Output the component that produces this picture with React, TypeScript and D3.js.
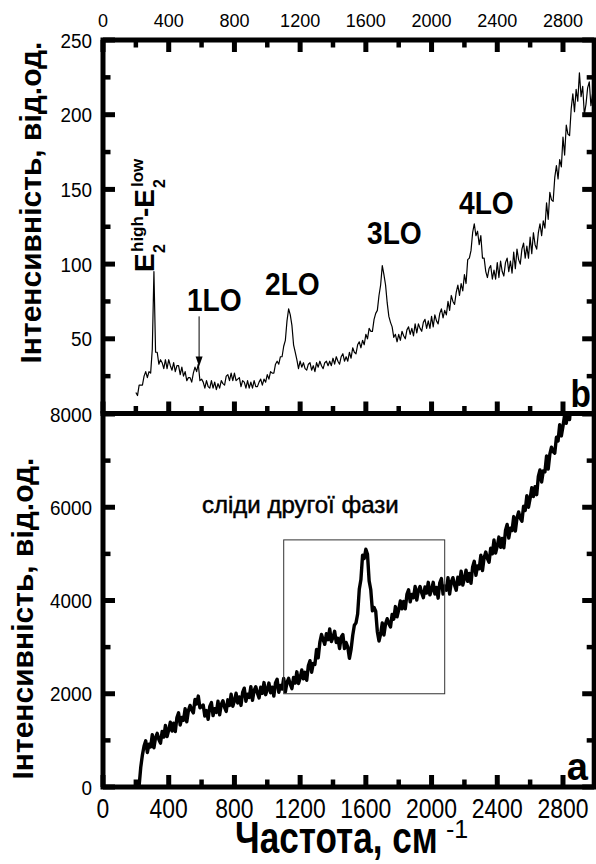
import React from 'react';
import * as d3 from 'd3';

const W = 596;
const H = 864;
const FONT = '"Liberation Sans", Arial, Helvetica, sans-serif';

// Axis ticks (wavenumber, cm^-1)
const xMajor = [0, 400, 800, 1200, 1600, 2000, 2400, 2800];
const xMinor = [200, 600, 1000, 1400, 1800, 2200, 2600];
const topYMajor = [50, 100, 150, 200, 250];
const topYMinor = [25, 75, 125, 175, 225];
const topYLabels = [50, 100, 150, 200, 250];
const botYMajor = [0, 2000, 4000, 6000, 8000];
const botYMinor = [1000, 3000, 5000, 7000];

// Spectrum (b): sampled every 10 cm^-1 starting at 200 cm^-1
const TOP_START = 200;
const TOP_STEP = 10;
const topIntensity = [
  14, 12, 19, 19, 19, 25, 28, 24, 28, 27,
  43, 95, 41, 41, 33, 36, 34, 30, 36, 30,
  36, 32, 29, 34, 28, 32, 32, 26, 31, 25,
  28, 22, 24, 24, 21, 27, 31, 28, 33, 22,
  23, 21, 17, 22, 18, 17, 22, 17, 21, 16,
  20, 17, 22, 20, 19, 25, 26, 22, 27, 22,
  27, 22, 23, 24, 18, 22, 21, 17, 22, 17,
  21, 17, 22, 18, 18, 21, 23, 19, 23, 21,
  26, 23, 28, 27, 27, 33, 35, 33, 38, 38,
  45, 49, 62, 70, 66, 59, 46, 41, 36, 30,
  35, 31, 34, 30, 29, 33, 34, 29, 32, 28,
  34, 31, 35, 32, 30, 34, 35, 32, 35, 32,
  37, 33, 38, 35, 33, 38, 40, 35, 38, 35,
  41, 37, 44, 41, 40, 46, 48, 44, 49, 46,
  53, 50, 57, 55, 55, 63, 67, 69, 79, 86,
  99, 93, 86, 74, 65, 61, 58, 51, 53, 48,
  53, 49, 55, 52, 50, 56, 58, 53, 57, 52,
  60, 54, 60, 57, 55, 61, 63, 57, 62, 57,
  65, 58, 66, 62, 60, 67, 70, 64, 69, 66,
  75, 69, 79, 75, 73, 81, 86, 79, 87, 82,
  93, 87, 103, 104, 109, 121, 127, 119, 122, 113,
  119, 104, 104, 95, 91, 97, 99, 90, 96, 90,
  101, 91, 102, 95, 92, 101, 104, 95, 102, 94,
  108, 97, 110, 103, 100, 110, 114, 104, 112, 104,
  118, 107, 121, 113, 110, 121, 127, 119, 129, 124,
  141, 130, 148, 143, 142, 158, 166, 157, 170, 165,
  185, 173, 193, 187, 186, 204, 214, 202, 217, 209,
  228, 212, 219, 200, 207, 218, 222, 206, 214, 205,
];

// Spectrum (a): sampled every 10 cm^-1 starting at 180 cm^-1
const BOT_START = 180;
const BOT_STEP = 10;
const botIntensity = [
  0, 0, 0, 0, 30, 430, 690, 880, 990, 740,
  920, 860, 1120, 840, 1060, 1150, 1020, 940, 1190, 1070,
  1320, 1080, 1220, 1390, 1200, 1370, 1190, 1490, 1590, 1330,
  1490, 1430, 1680, 1400, 1640, 1750, 1650, 1590, 1880, 1780,
  1950, 1700, 1720, 1760, 1520, 1640, 1450, 1730, 1810, 1530,
  1680, 1600, 1840, 1550, 1770, 1850, 1710, 1620, 1870, 1750,
  1990, 1730, 1850, 2010, 1800, 1930, 1750, 2030, 2120, 1840,
  1990, 1920, 2150, 1860, 2070, 2150, 2010, 1910, 2140, 2010,
  2240, 1980, 2090, 2230, 2020, 2140, 1950, 2230, 2310, 2030,
  2180, 2100, 2330, 2040, 2250, 2330, 2200, 2110, 2350, 2230,
  2470, 2220, 2340, 2510, 2320, 2460, 2290, 2600, 2710, 2460,
  2650, 2630, 2950, 2770, 3100, 3270, 3160, 3060, 3290, 3160,
  3390, 3120, 3210, 3340, 3100, 3190, 2970, 3220, 3270, 2970,
  3100, 3000, 2760, 2950, 3250, 3470, 3520, 3710, 4240, 4450,
  4970, 4900, 5100, 4990, 4420, 4230, 3780, 3850, 3770, 3330,
  3130, 3280, 3520, 3260, 3500, 3610, 3500, 3430, 3700, 3600,
  3870, 3650, 3800, 3990, 3820, 3980, 3820, 4130, 4230, 3970,
  4130, 4060, 4300, 4010, 4220, 4300, 4160, 4060, 4290, 4160,
  4390, 4120, 4230, 4390, 4140, 4280, 4050, 4380, 4470, 4140,
  4310, 4220, 4490, 4140, 4400, 4490, 4330, 4220, 4500, 4350,
  4630, 4330, 4470, 4650, 4410, 4580, 4370, 4720, 4840, 4540,
  4740, 4680, 4970, 4640, 4920, 5040, 4900, 4820, 5120, 5000,
  5300, 5020, 5170, 5360, 5140, 5330, 5130, 5500, 5630, 5340,
  5550, 5500, 5800, 5490, 5770, 5900, 5760, 5700, 6020, 5930,
  6250, 6000, 6190, 6420, 6230, 6440, 6270, 6660, 6800, 6540,
  6780, 6760, 7100, 6820, 7140, 7290, 7190, 7160, 7500, 7420,
  7770, 7530, 7740, 7980, 7800, 8030, 7880, 8290,
];

// Peak labels for spectrum (b): text anchored at [cm^-1, intensity]
const peakLabels = ['1LO', '2LO', '3LO', '4LO'];
const peakLabelX = [511, 986, 1607, 2167];
const peakLabelY = [68.4, 79.4, 113.6, 133.7];

// Arrow marking 1LO: [cm^-1], from / to intensity
const arrowX = 585;
const arrowFrom = 65;
const arrowTo = 31.5;

// Frame around the second-phase feature in spectrum (a)
const boxX = [1100, 2080];
const boxY = [2000, 5300];

const LEFT = 103;
const RIGHT = 594.2;
const TOP = 40;
const MID = 413.5;
const BOTTOM = 787;

const x = d3.scaleLinear().domain([0, 2990]).range([LEFT, RIGHT]);
const yTop = d3.scaleLinear().domain([0, 250]).range([MID, TOP]);
const yBot = d3.scaleLinear().domain([0, 8000]).range([BOTTOM, 414]);

const topLine = d3
  .line<number>()
  .x((_, i) => x(TOP_START + i * TOP_STEP))
  .y((v) => yTop(v));
const botLine = d3
  .line<number>()
  .x((_, i) => x(BOT_START + i * BOT_STEP))
  .y((v) => yBot(v));

const MAJ = 12;
const MIN = 7.5;
const AXW = 5;

function Txt(props: {
  x: number;
  y: number;
  size: number;
  weight?: string | number;
  anchor?: string;
  sx?: number;
  rot?: number;
  stroke?: number;
  children: React.ReactNode;
}) {
  const { x: tx, y: ty, size, weight = 'normal', anchor = 'start', sx = 1, rot = 0, stroke = 0 } = props;
  return (
    <text
      transform={`translate(${tx},${ty}) rotate(${rot}) scale(${sx},1)`}
      fontSize={size}
      fontWeight={weight}
      textAnchor={anchor}
      fontFamily={FONT}
      fill="#000"
      stroke={stroke ? '#000' : 'none'}
      strokeWidth={stroke}
    >
      {props.children}
    </text>
  );
}

function Panel(props: {
  y: d3.ScaleLinear<number, number>;
  yMajor: number[];
  yMinor: number[];
  top: number;
  bottom: number;
  topTicks: boolean;
}) {
  const { y, yMajor, yMinor, top, bottom, topTicks } = props;
  const k = '#000';
  return (
    <g>
      {/* x ticks on bottom edge, pointing inward */}
      {xMajor.map((t) => (
        <line key={'bM' + t} x1={x(t)} x2={x(t)} y1={bottom} y2={bottom - MAJ} stroke={k} strokeWidth={5} />
      ))}
      {xMinor.map((t) => (
        <line key={'bm' + t} x1={x(t)} x2={x(t)} y1={bottom} y2={bottom - MIN} stroke={k} strokeWidth={4.5} />
      ))}
      {topTicks &&
        xMajor.map((t) => (
          <line key={'tM' + t} x1={x(t)} x2={x(t)} y1={top} y2={top + MAJ} stroke={k} strokeWidth={5} />
        ))}
      {topTicks &&
        xMinor.map((t) => (
          <line key={'tm' + t} x1={x(t)} x2={x(t)} y1={top} y2={top + MIN} stroke={k} strokeWidth={4.5} />
        ))}
      {/* y ticks on both sides, pointing inward */}
      {yMajor.map((t) => (
        <g key={'yM' + t}>
          <line x1={LEFT} x2={LEFT + MAJ} y1={y(t)} y2={y(t)} stroke={k} strokeWidth={5} />
          <line x1={RIGHT} x2={RIGHT - MAJ} y1={y(t)} y2={y(t)} stroke={k} strokeWidth={5} />
        </g>
      ))}
      {yMinor.map((t) => (
        <g key={'ym' + t}>
          <line x1={LEFT} x2={LEFT + MIN} y1={y(t)} y2={y(t)} stroke={k} strokeWidth={4.5} />
          <line x1={RIGHT} x2={RIGHT - MIN} y1={y(t)} y2={y(t)} stroke={k} strokeWidth={4.5} />
        </g>
      ))}
      <rect x={LEFT} y={top} width={RIGHT - LEFT} height={bottom - top} fill="none" stroke={k} strokeWidth={AXW} />
    </g>
  );
}

export default function App() {
  return (
    <svg
      width={W}
      height={H}
      viewBox={`0 0 ${W} ${H}`}
      style={{ position: 'absolute', left: 0, top: 0, display: 'block', background: '#fff' }}
    >
      <defs>
        <clipPath id="botClip">
          <rect x={LEFT} y={MID} width={RIGHT - LEFT} height={BOTTOM - MID} />
        </clipPath>
      </defs>
      <rect width={W} height={H} fill="#fff" />

      {/* spectra */}
      <path d={topLine(topIntensity) || ''} fill="none" stroke="#000" strokeWidth={1.2} strokeLinejoin="round" />
      <path
        d={botLine(botIntensity) || ''}
        fill="none"
        stroke="#000"
        strokeWidth={3.4}
        strokeLinejoin="round"
        clipPath="url(#botClip)"
      />

      {/* frame around the second-phase feature */}
      <rect
        x={x(boxX[0])}
        y={yBot(boxY[1])}
        width={x(boxX[1]) - x(boxX[0])}
        height={yBot(boxY[0]) - yBot(boxY[1])}
        fill="none"
        stroke="#333"
        strokeWidth={1}
      />

      <Panel y={yTop} yMajor={topYMajor} yMinor={topYMinor} top={TOP} bottom={MID} topTicks={true} />
      <Panel y={yBot} yMajor={botYMajor} yMinor={botYMinor} top={MID} bottom={BOTTOM} topTicks={false} />

      {/* top x labels */}
      {xMajor.map((t) => (
        <Txt key={'tx' + t} x={x(t)} y={27} size={18} anchor="middle">
          {t}
        </Txt>
      ))}
      {/* bottom x labels */}
      {xMajor.map((t) => (
        <Txt key={'bx' + t} x={x(t)} y={818} size={27} anchor="middle" sx={0.85}>
          {t}
        </Txt>
      ))}
      {/* y labels */}
      {topYLabels.map((t) => (
        <Txt key={'ty' + t} x={92} y={yTop(t) + 7.5} size={21} anchor="end" sx={0.9}>
          {t}
        </Txt>
      ))}
      {botYMajor.map((t) => (
        <Txt key={'by' + t} x={92} y={yBot(t) + 7.5} size={21} anchor="end" sx={0.9}>
          {t}
        </Txt>
      ))}

      {/* axis titles */}
      <Txt x={41} y={202.5} size={30} weight="bold" anchor="middle" rot={-90}>
        Інтенсивність, від.од.
      </Txt>
      <Txt x={33} y={618.5} size={30} weight="bold" anchor="middle" rot={-90}>
        Інтенсивність, від.од.
      </Txt>
      <Txt x={235} y={853} size={45} weight="bold" sx={0.78}>
        Частота, см
      </Txt>
      <Txt x={446} y={838} size={25}>
        -1
      </Txt>

      {/* panel letters */}
      <Txt x={591} y={407} size={38} weight="bold" anchor="end" sx={0.88}>
        b
      </Txt>
      <Txt x={588} y={780} size={38} weight="bold" anchor="end">
        a
      </Txt>

      {/* peak annotations */}
      {peakLabels.map((s, i) => (
        <Txt key={s} x={x(peakLabelX[i])} y={yTop(peakLabelY[i])} size={32} weight="bold" sx={0.88}>
          {s}
        </Txt>
      ))}
      <line
        x1={x(arrowX)}
        x2={x(arrowX)}
        y1={yTop(arrowFrom)}
        y2={yTop(arrowTo) - 8}
        stroke="#000"
        strokeWidth={1}
      />
      <path
        d={`M${x(arrowX) - 3.5},${yTop(arrowTo) - 10} L${x(arrowX) + 3.5},${yTop(arrowTo) - 10} L${x(arrowX)},${yTop(arrowTo)} Z`}
        fill="#000"
      />

      {/* E2(high)-E2(low) label, written upward */}
      <g transform="translate(154,272) rotate(-90)" fontFamily={FONT} fontWeight="bold" fill="#000">
        <text x={0} y={0} fontSize={28}>E</text>
        <text x={19} y={11} fontSize={16}>2</text>
        <text x={20} y={-11} fontSize={17}>high</text>
        <text x={55} y={0} fontSize={28}>-E</text>
        <text x={84} y={11} fontSize={16}>2</text>
        <text x={85} y={-11} fontSize={17}>low</text>
      </g>

      <Txt x={202} y={513} size={24} stroke={0.5}>
        сліди другої фази
      </Txt>
    </svg>
  );
}
